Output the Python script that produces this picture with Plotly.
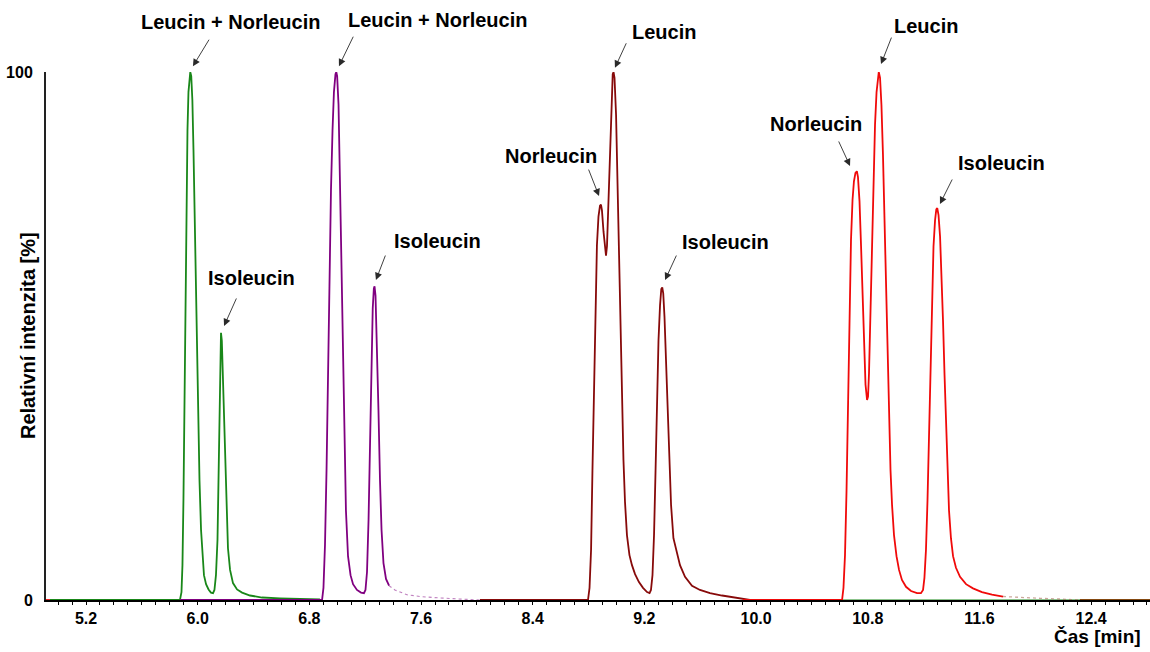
import plotly.graph_objects as go

# ---------------- data (time [min], relative intensity [%]) ----------------
green_t = [4.942, 5.873, 5.884, 5.891, 5.898, 5.906, 5.913, 5.920, 5.927, 5.934, 5.941, 5.947,
           5.954, 5.962, 5.970, 5.981, 5.992, 6.002, 6.013, 6.024, 6.035, 6.045, 6.060, 6.078,
           6.095, 6.110, 6.120, 6.131, 6.142, 6.149, 6.156, 6.162, 6.167, 6.173, 6.181, 6.192,
           6.203, 6.217, 6.232, 6.253, 6.282, 6.318, 6.375, 6.461, 6.590, 6.733, 6.876]
green_i = [0, 0, 1.5, 6.6, 18.9, 37.9, 58.7, 76.7, 89.0, 96.2, 99.4, 100,
           99.2, 94.7, 85.2, 70.1, 53.0, 36.0, 22.7, 13.3, 7.6, 4.7, 3.0, 2.0,
           1.4, 1.3, 1.9, 4.7, 11.4, 22.7, 36.0, 47.3, 50.6, 49.1, 41.7, 29.4,
           18.0, 9.8, 5.7, 3.2, 2.0, 1.4, 0.85, 0.47, 0.32, 0.23, 0.09]

green_base_t = [10.616, 12.822]
green_base_i = [0, 0]

purple_t = [5.873, 6.891, 6.901, 6.912, 6.923, 6.934, 6.944, 6.955, 6.966, 6.976, 6.987, 6.993,
            6.999, 7.009, 7.019, 7.030, 7.041, 7.052, 7.062, 7.077, 7.095, 7.113, 7.141, 7.170,
            7.191, 7.202, 7.213, 7.224, 7.234, 7.245, 7.254, 7.262, 7.267, 7.274, 7.285, 7.295,
            7.306, 7.317, 7.331, 7.349, 7.371]
purple_i = [0, 0, 2.3, 10.4, 24.6, 43.6, 62.5, 77.7, 89.0, 96.2, 99.6, 100,
            99.2, 93.8, 79.5, 61.6, 43.6, 28.4, 17.0, 8.3, 4.7, 3.0, 1.9, 1.4,
            1.3, 1.9, 5.3, 15.2, 30.3, 45.5, 55.2, 59.0, 59.4, 57.6, 48.6, 36.0,
            22.7, 13.3, 7.0, 4.0, 2.7]
purple_tail_t = [7.371, 7.413, 7.499, 7.593, 7.736, 7.879, 8.022]
purple_tail_i = [2.7, 1.9, 1.0, 0.66, 0.38, 0.19, 0]

maroon_t = [8.022, 8.796, 8.807, 8.818, 8.828, 8.839, 8.850, 8.860, 8.871, 8.882, 8.889, 8.896,
            8.907, 8.918, 8.925, 8.932, 8.943, 8.954, 8.964, 8.973, 8.979, 8.986, 8.997, 9.007,
            9.018, 9.029, 9.040, 9.050, 9.061, 9.075, 9.093, 9.111, 9.133, 9.161, 9.190, 9.219,
            9.237, 9.247, 9.258, 9.269, 9.280, 9.290, 9.301, 9.312, 9.321, 9.328, 9.335, 9.344,
            9.355, 9.366, 9.376, 9.391, 9.408, 9.430, 9.455, 9.491, 9.541, 9.598, 9.670, 9.756,
            9.849, 9.906, 9.956]
maroon_i = [0, 0, 2.3, 9.5, 24.6, 41.7, 56.8, 67.2, 72.6, 74.7, 74.9, 73.8,
            69.8, 66.0, 65.2, 67.0, 75.8, 87.1, 95.5, 99.6, 100, 98.9, 91.9, 79.5,
            64.4, 50.2, 36.9, 26.5, 18.6, 12.3, 8.5, 6.6, 4.9, 3.4, 2.3, 1.5,
            1.3, 1.9, 4.7, 12.3, 24.6, 37.9, 49.2, 55.8, 58.9, 59.2, 58.1, 53.6,
            45.5, 36.0, 26.5, 18.0, 11.7, 9.1, 6.6, 4.4, 2.7, 1.9, 1.3, 0.85,
            0.47, 0.19, 0]

red_t = [9.906, 10.616, 10.626, 10.637, 10.648, 10.658, 10.669, 10.680, 10.691, 10.701, 10.712,
         10.722, 10.730, 10.741, 10.752, 10.762, 10.773, 10.784, 10.795, 10.802, 10.809, 10.820,
         10.830, 10.841, 10.852, 10.863, 10.872, 10.879, 10.888, 10.898, 10.909, 10.920, 10.931,
         10.941, 10.952, 10.963, 10.974, 10.988, 11.006, 11.024, 11.045, 11.074, 11.110, 11.153,
         11.181, 11.196, 11.206, 11.217, 11.228, 11.239, 11.249, 11.260, 11.271, 11.282, 11.291,
         11.298, 11.307, 11.318, 11.328, 11.339, 11.350, 11.361, 11.371, 11.382, 11.396, 11.411,
         11.432, 11.461, 11.504, 11.554, 11.618, 11.690, 11.769]
red_i = [0, 0, 2.3, 8.5, 20.8, 37.9, 54.9, 68.2, 75.8, 79.3, 80.9,
         81.2, 80.1, 75.5, 67.0, 57.5, 48.0, 40.8, 37.9, 38.5, 43.0, 54.9,
         68.2, 80.5, 90.0, 96.2, 99.4, 100, 98.9, 93.8, 84.3, 72.0, 58.7,
         45.5, 34.1, 24.6, 18.0, 12.3, 8.3, 5.7, 3.8, 2.5, 1.7, 1.3,
         1.3, 1.9, 4.2, 9.5, 18.9, 32.2, 45.5, 57.8, 67.0, 71.9, 74.0,
         74.2, 72.9, 68.8, 62.3, 53.0, 42.6, 32.2, 23.7, 17.0, 11.7, 8.3,
         6.1, 4.4, 3.0, 2.2, 1.5, 1.0, 0.66]
red_tail_t = [11.769, 11.891, 12.034, 12.177, 12.320]
red_tail_i = [0.66, 0.47, 0.32, 0.19, 0]
red_base_t = [4.9135, 4.942, None, 12.320, 12.822]
red_base_i = [0, 0, None, 0, 0]

x_ticks = [5.2, 6.0, 6.8, 7.6, 8.4, 9.2, 10.0, 10.8, 11.6, 12.4]
x_tick_labels = ["5.2", "6.0", "6.8", "7.6", "8.4", "9.2", "10.0", "10.8", "11.6", "12.4"]
y_ticks = [0, 100]
y_tick_labels = ["0", "100"]

# peak labels: text, text centre (t, i), arrow head (t, i)
labels = [
    ("Leucin + Norleucin", 6.237, 109.5, 5.966, 101.1),
    ("Leucin + Norleucin", 7.717, 109.8, 7.012, 101.1),
    ("Isoleucin", 6.389, 61.0, 6.189, 51.9),
    ("Isoleucin", 7.721, 68.0, 7.277, 60.6),
    ("Leucin", 9.340, 107.6, 8.989, 100.8),
    ("Norleucin", 8.531, 84.1, 8.875, 76.5),
    ("Isoleucin", 9.778, 67.8, 9.348, 60.6),
    ("Leucin", 11.217, 108.7, 10.895, 101.5),
    ("Norleucin", 10.429, 90.2, 10.673, 82.2),
    ("Isoleucin", 11.755, 82.8, 11.317, 75.0),
]
# arrow tail offsets from the head, in screen pixels (dx, dy)
arrow_offsets = [(17, -28), (15, -31), (13, -29), (10, -26), (12, -26),
                 (-11, -28), (12, -26), (11, -28), (-12, -26), (13, -26)]

GREEN = "rgb(25,135,25)"
PURPLE = "rgb(128,0,128)"
MAROON = "rgb(135,10,10)"
RED = "rgb(240,10,10)"
FONT = "Arial, Liberation Sans, sans-serif"
LW = 1.8

fig = go.Figure()

def add_line(t, i, color, width=LW, dash="solid"):
    fig.add_trace(go.Scatter(x=t, y=i, mode="lines", cliponaxis=False,
                             line=dict(color=color, width=width, dash=dash),
                             hoverinfo="skip", showlegend=False))

add_line(red_base_t, red_base_i, RED)
add_line(green_base_t, green_base_i, GREEN, 1.2)
add_line(green_t, green_i, GREEN)
add_line(purple_tail_t, purple_tail_i, "rgba(128,0,128,0.5)", 1.1, "dot")
add_line(purple_t, purple_i, PURPLE)
add_line(maroon_t, maroon_i, MAROON)
add_line(red_tail_t, red_tail_i, "rgba(170,110,90,0.6)", 1.3, "dot")
add_line(red_t, red_i, RED)

Y0, Y1 = 0, 100
def to_paper(v):
    return (v - Y0) / (Y1 - Y0)

annotations = []
for (text, tx, ty, hx, hy), (dx, dy) in zip(labels, arrow_offsets):
    annotations.append(dict(x=tx, y=to_paper(ty), xref="x", yref="paper", text=text,
                            showarrow=False, xanchor="center", yanchor="middle",
                            font=dict(family=FONT, size=20, color="black", weight="bold")))
    annotations.append(dict(x=hx, y=to_paper(hy), xref="x", yref="paper", ax=dx, ay=dy,
                            text="", showarrow=True, arrowhead=2, arrowsize=1.6,
                            arrowwidth=0.9, arrowcolor="#2a2a2a", standoff=0, startstandoff=0))

annotations.append(dict(x=-0.0163, y=0.5, xref="paper", yref="paper", text="Relativní intenzita [%]",
                        textangle=-90, showarrow=False, xanchor="center", yanchor="middle",
                        font=dict(family=FONT, size=20, color="black", weight="bold")))
annotations.append(dict(x=0.9937, y=-0.070, xref="paper", yref="paper", text="Čas [min]",
                        showarrow=False, xanchor="right", yanchor="middle",
                        font=dict(family=FONT, size=19, color="black", weight="bold")))

fig.update_layout(
    width=1150, height=652,
    margin=dict(l=46, r=0, t=72, b=52),
    paper_bgcolor="white", plot_bgcolor="white",
    annotations=annotations,
    xaxis=dict(range=[4.9135, 12.8218], showgrid=False, zeroline=False,
               showline=True, linecolor="black", linewidth=1.5,
               tickmode="array", tickvals=x_ticks, ticktext=x_tick_labels,
               ticks="outside", ticklen=3, tickcolor="black", tickwidth=1,
               minor=dict(dtick=0.1, tick0=5.2, ticks="outside", ticklen=3, tickcolor="black"),
               tickfont=dict(family=FONT, size=16, color="black", weight="bold")),
    yaxis=dict(range=[Y0, Y1], showgrid=False, zeroline=False,
               showline=True, linecolor="#222222", linewidth=2,
               tickmode="array", tickvals=y_ticks, ticktext=y_tick_labels,
               ticks="", ticklabelstandoff=8,
               tickfont=dict(family=FONT, size=16, color="black", weight="bold")),
)

fig.write_html("out.html")
